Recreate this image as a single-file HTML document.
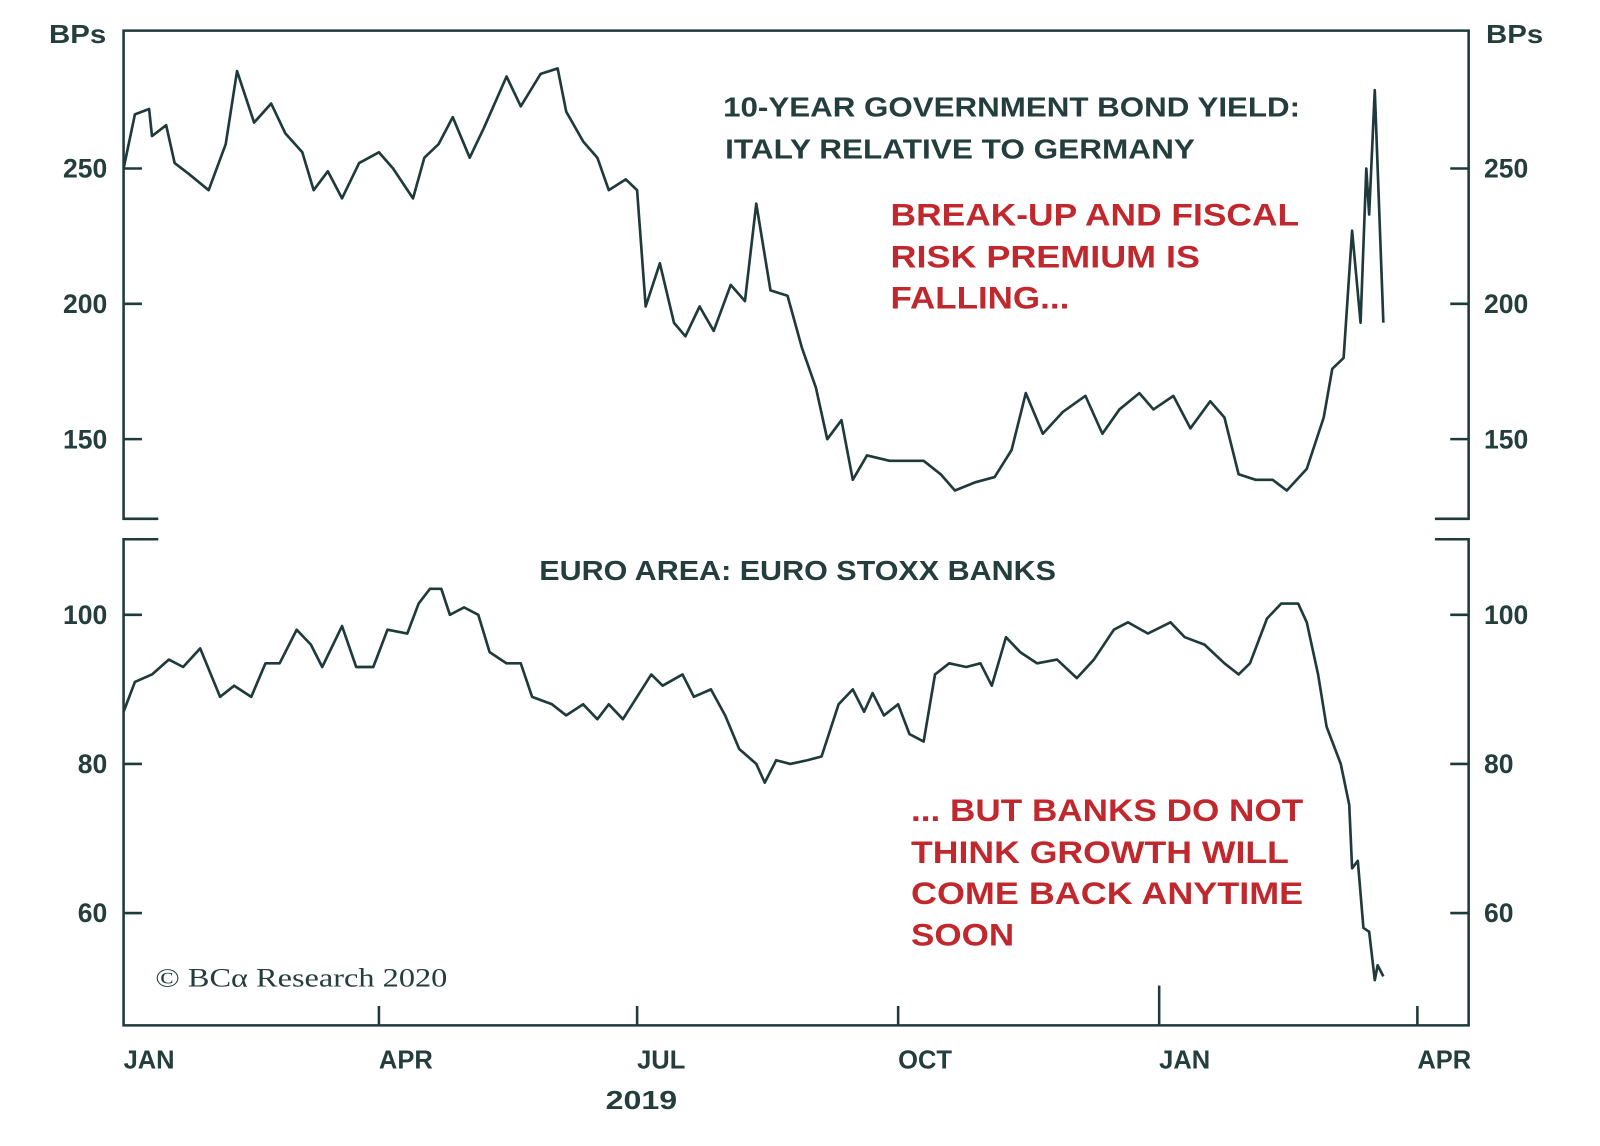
<!DOCTYPE html>
<html><head><meta charset="utf-8">
<style>
html,body{margin:0;padding:0;background:#fff;}
svg{display:block;}
text{font-family:"Liberation Sans",sans-serif;font-weight:bold;}
</style></head>
<body>
<svg id="chart" width="1600" height="1146" viewBox="0 0 1600 1146" xmlns="http://www.w3.org/2000/svg">
<g transform="scale(1.0213)">
<g id="frame" stroke="#1f3a3a" stroke-width="2.5" fill="none">
  <path d="M155,508 H121 V30 H1438 V508 H1405"/>
  <path d="M155,528 H121 V1004 H1438 V528 H1405"/>
</g>
<g id="axes"></g>
<g id="series"></g>
<text x="48" y="42" font-size="25" fill="#243d3d" textLength="56" lengthAdjust="spacingAndGlyphs">BPs</text>
<text x="1455" y="42" font-size="25" fill="#243d3d" textLength="56" lengthAdjust="spacingAndGlyphs">BPs</text>
<text x="708" y="114" font-size="27" fill="#243d3d" textLength="565" lengthAdjust="spacingAndGlyphs">10-YEAR GOVERNMENT BOND YIELD:</text>
<text x="710" y="155" font-size="27" fill="#243d3d" textLength="460" lengthAdjust="spacingAndGlyphs">ITALY RELATIVE TO GERMANY</text>
<text x="872" y="221" font-size="31" fill="#c0282d" textLength="400" lengthAdjust="spacingAndGlyphs">BREAK-UP AND FISCAL</text>
<text x="872" y="262" font-size="31" fill="#c0282d" textLength="303" lengthAdjust="spacingAndGlyphs">RISK PREMIUM IS</text>
<text x="872" y="302" font-size="31" fill="#c0282d" textLength="175" lengthAdjust="spacingAndGlyphs">FALLING...</text>
<text x="528" y="568" font-size="27" fill="#243d3d" textLength="506" lengthAdjust="spacingAndGlyphs">EURO AREA: EURO STOXX BANKS</text>
<text x="892" y="804" font-size="31" fill="#c0282d" textLength="384" lengthAdjust="spacingAndGlyphs">... BUT BANKS DO NOT</text>
<text x="892" y="845" font-size="31" fill="#c0282d" textLength="370" lengthAdjust="spacingAndGlyphs">THINK GROWTH WILL</text>
<text x="892" y="885" font-size="31" fill="#c0282d" textLength="384" lengthAdjust="spacingAndGlyphs">COME BACK ANYTIME</text>
<text x="892" y="926" font-size="31" fill="#c0282d" textLength="101" lengthAdjust="spacingAndGlyphs">SOON</text>
<text x="152" y="966" font-size="26" fill="#243d3d" textLength="286" lengthAdjust="spacingAndGlyphs" style="font-family:'Liberation Serif',serif;font-weight:normal">© BCα Research 2020</text>
<text x="628" y="1086" font-size="25" fill="#243d3d" text-anchor="middle" textLength="70" lengthAdjust="spacingAndGlyphs">2019</text>
</g>
</svg>
<script>
const topDays=[0,4,9,10,15,18,23,30,36,40,46,52,57,63,67,72,77,83,90,95,102,106,111,116,122,127,135,140,147,153,156,162,167,171,177,181,184,189,194,198,203,208,214,219,223,228,234,239,244,248,253,257,262,270,277,282,288,293,300,307,313,318,324,331,339,345,351,358,363,370,376,383,388,393,399,405,410,417,423,426,430,433,436,438,439,441,444];
const topVals=[250,270,272,262,266,252,248,242,259,286,267,274,263,256,242,249,239,252,256,250,239,254,259,269,254,265,284,273,285,287,271,260,254,242,246,242,199,215,193,188,199,190,207,201,237,205,203,184,169,150,157,135,144,142,142,142,137,131,134,136,146,167,152,160,166,152,161,167,161,166,154,164,158,137,135,135,131,139,158,176,180,227,193,250,233,279,193];
const botDays=[0,4,10,16,21,27,34,39,45,50,55,61,66,70,77,82,88,93,100,104,108,112,115,120,125,129,135,140,144,151,156,162,167,171,176,181,186,190,197,201,207,212,217,223,226,230,235,241,246,252,257,261,264,268,273,277,282,286,291,297,302,306,311,316,322,329,336,342,349,354,361,369,374,381,388,393,397,403,408,414,417,421,424,429,432,433,435,437,439,441,442,444];
const botVals=[87,91,92,94,93,95.5,89,90.5,89,93.5,93.5,98,96,93,98.5,93,93,98,97.5,101.5,103.5,103.5,100,101,100,95,93.5,93.5,89,88,86.5,88,86,88,86,89,92,90.5,92,89,90,86.5,82,80,77.5,80.5,80,80.5,81,88,90,87,89.5,86.5,88,84,83,92,93.5,93,93.5,90.5,97,95,93.5,94,91.5,94,98,99,97.5,99,97,96,93.5,92,93.5,99.5,101.5,101.5,99,92,85,80,74.5,66,67,58,57.5,51,53,51.5];
const topTicks=[250,200,150];
const botTicks=[100,80,60];
const monthLabels=["JAN","APR","JUL","OCT","JAN","APR"];
const monthDays=[0,90,181,273,365,456];

const NS="http://www.w3.org/2000/svg";
const xS=d=>121+d*1014/365;
const yTop=v=>165+(250-v)*2.65;
const yBot=v=>602+(100-v)*7.3;
const axes=document.getElementById('axes');
const ser=document.getElementById('series');
function mk(tag,attrs,parent){const e=document.createElementNS(NS,tag);for(const k in attrs)e.setAttribute(k,attrs[k]);parent.appendChild(e);return e;}
function ticks(vals,sc,prefix){
  vals.forEach(v=>{
    const y=sc(v);
    const l=mk('path',{d:`M121,${y}H139M1420,${y}H1438`,stroke:'#1f3a3a','stroke-width':2.5},axes);
    
    
    const t1=mk('text',{x:105,y:y+9,'font-size':26,fill:'#243d3d','text-anchor':'end'},axes);
    t1.textContent=v;
    
    
    const t2=mk('text',{x:1453,y:y+9,'font-size':26,fill:'#243d3d'},axes);
    t2.textContent=v;
    
    
  });
}
ticks(topTicks,yTop,'top');
ticks(botTicks,yBot,'bottom');
monthDays.forEach((d,i)=>{
  const x=xS(d);
  if(i>0){
    const tk=mk('path',{d:`M${x},${i===4?965:985}V1004`,stroke:'#1f3a3a','stroke-width':2.5},axes);
    
    
  }
  const t=mk('text',{x:x,y:1046,'font-size':25,fill:'#243d3d'},axes);
  t.textContent=monthLabels[i];
  
  
});
function line(days,vals,sc,name){
  const d=days.map((dd,i)=>(i?'L':'M')+xS(dd).toFixed(1)+','+sc(vals[i]).toFixed(1)).join('');
  const p=mk('path',{d:d,fill:'none',stroke:'#1f3a3a','stroke-width':2.6,'stroke-linejoin':'round'},ser);
  
  
}
line(topDays,topVals,yTop,'italy-germany-spread-line');
line(botDays,botVals,yBot,'euro-stoxx-banks-line');
</script>
</body></html>
